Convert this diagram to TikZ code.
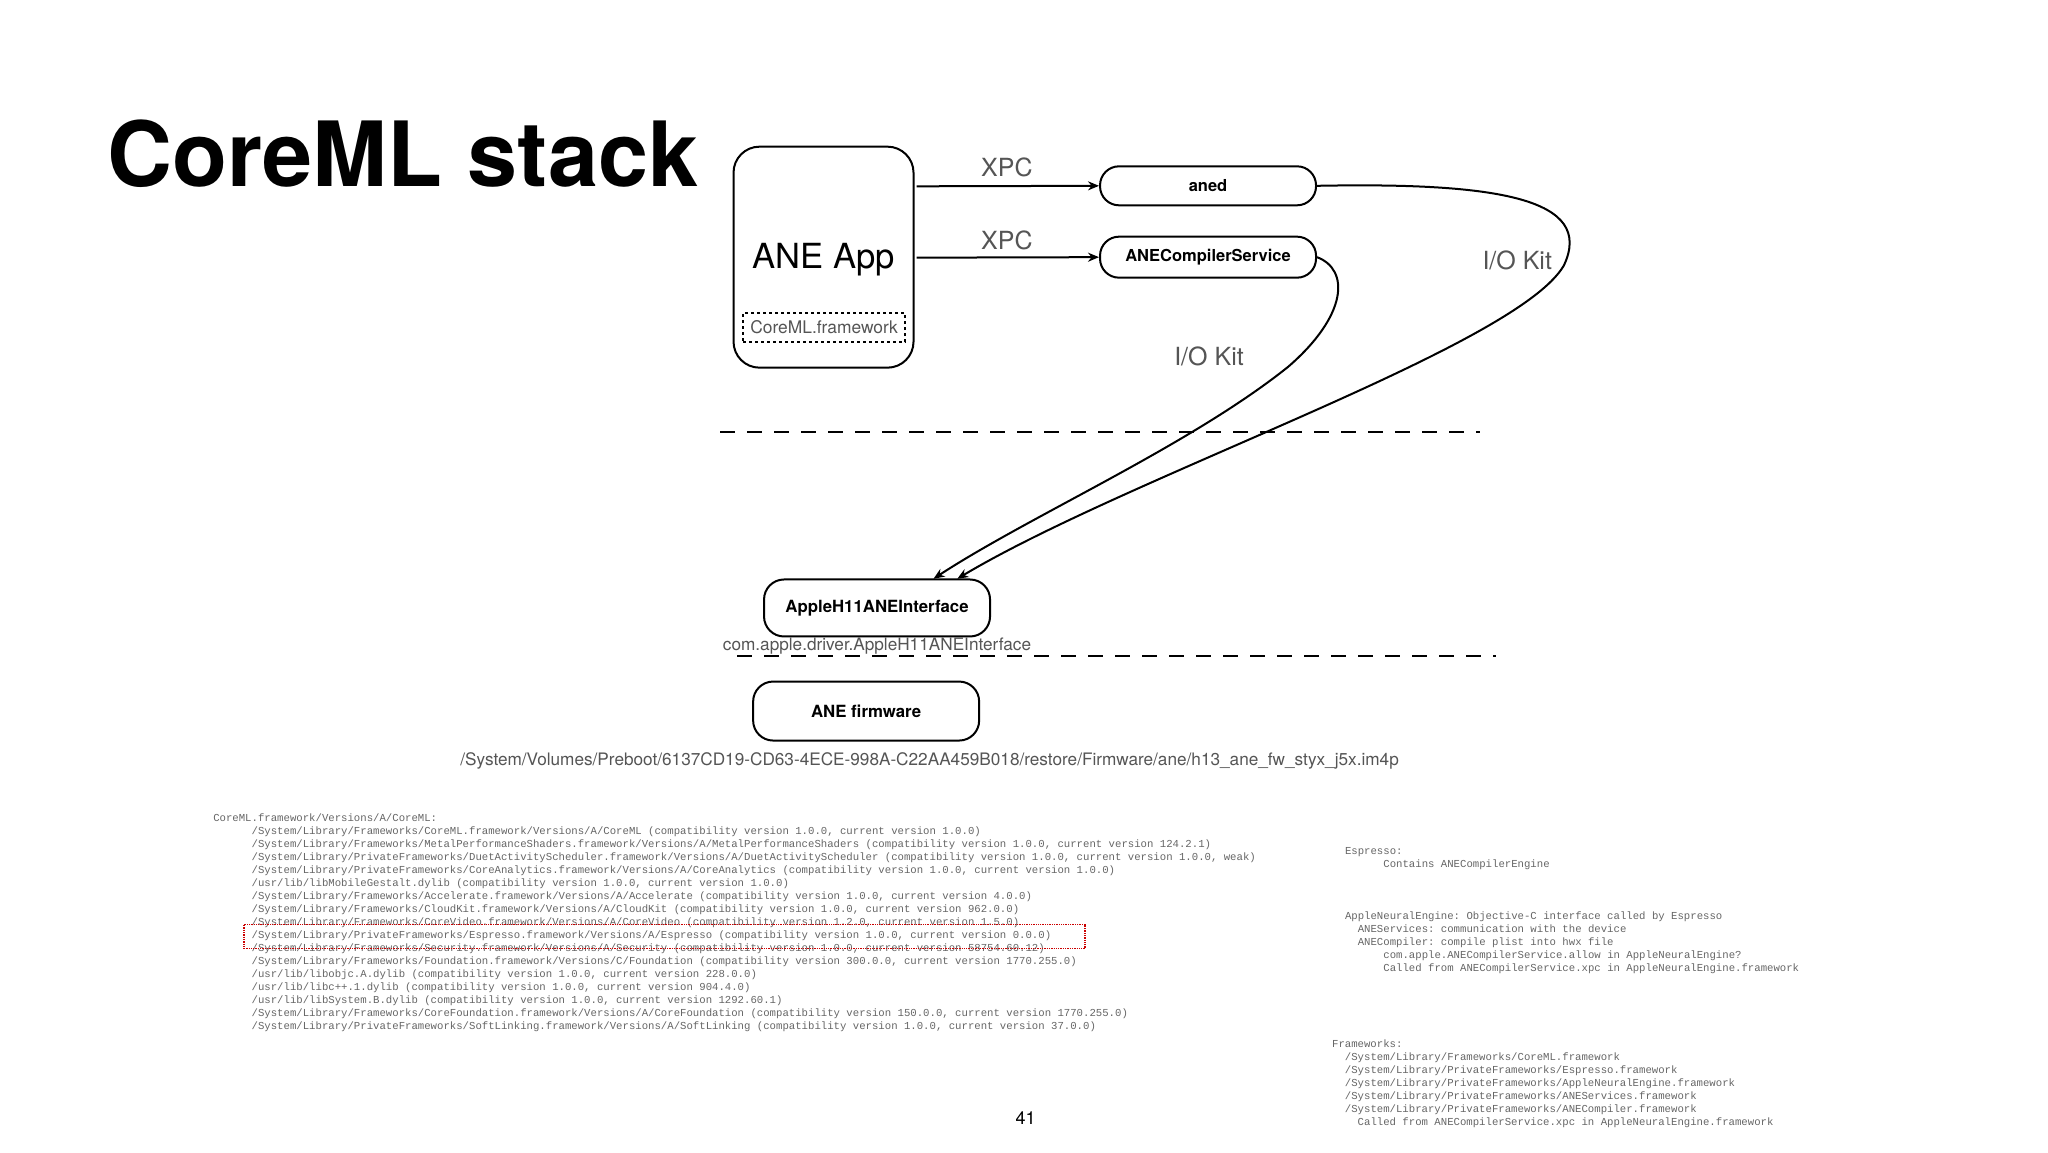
\documentclass[tikz,border=0pt]{standalone}
\usepackage{fontspec}
\setmainfont{TeX Gyre Heros}
\setmonofont{Liberation Mono}
\usetikzlibrary{arrows.meta}
\definecolor{lbl}{HTML}{555555}
\definecolor{code}{HTML}{666666}
\tikzset{
  box/.style={draw,line width=2pt,rounded corners=20pt,font=\fontsize{16.8}{19}\selectfont\bfseries,inner sep=0pt},
  pill/.style={draw,line width=2pt,rounded corners=19pt,font=\fontsize{16.5}{19}\selectfont\bfseries,inner sep=0pt},
  lab/.style={text=lbl,font=\fontsize{25}{27}\selectfont},
  arr/.style={line width=2pt,-{Stealth[length=11pt,width=9pt]}},
  sep/.style={line width=2.2pt,dash pattern=on 15pt off 12pt},
  code/.style={text=code,font=\fontsize{10.66}{13}\ttfamily,align=left,anchor=north west,inner sep=0pt},
}
\newcommand{\ii}[1]{\phantom{#1}}
\begin{document}
\begin{tikzpicture}[x=0.991pt,y=-0.991pt]
\useasboundingbox[fill=white] (0,0) rectangle (2066.6,1162.5);
\node[anchor=base west,inner sep=0pt,font=\fontsize{90}{90}\selectfont\bfseries] (title) at (108,188) {CoreML stack};
% ANE App
\node[draw,line width=2pt,rounded corners=26pt,minimum width=180pt,minimum height=221pt] (app) at (831,259.5) {};
\node[font=\fontsize{34.6}{36}\selectfont] (apptxt) at (831,262) {ANE App};
\node[draw,dashed,line width=2pt,minimum width=162pt,minimum height=29pt,inner sep=0pt,text=lbl,font=\fontsize{17.4}{19}\selectfont] (cml) at (831.5,330.5) {CoreML.framework};
% right boxes
\node[pill,minimum width=216pt,minimum height=39pt] (aned) at (1219,187.5) {aned};
\node[pill,minimum width=216pt,minimum height=41pt] (acs) at (1219,259.5) {ANECompilerService};
\coordinate (a1) at (925,188);
\coordinate (a2) at (925,260);
\draw[arr] (a1) -- (aned.west);
\draw[arr] (a2) -- (acs.west);
\node[lab,anchor=base] (x1) at (1016,178) {XPC};
\node[lab,anchor=base] (x2) at (1016,252) {XPC};
\node[lab,anchor=base] (io1) at (1531,272) {I/O Kit};
\node[lab,anchor=base] (io2) at (1220,369) {I/O Kit};
% lower boxes
\node[box,minimum width=226pt,minimum height=57pt] (ah) at (885,613.5) {AppleH11ANEInterface};
\node[lab,anchor=base,font=\fontsize{17.2}{19}\selectfont] (ahl) at (885,656) {com.apple.driver.AppleH11ANEInterface};
\node[box,minimum width=226pt,minimum height=59pt] (fw) at (874,717.5) {ANE firmware};
\node[lab,anchor=base,font=\fontsize{17.2}{19}\selectfont] (fwl) at (938,772) {/System/Volumes/Preboot/6137CD19-CD63-4ECE-998A-C22AA459B018/restore/Firmware/ane/h13\_ane\_fw\_styx\_j5x.im4p};
% separators
\coordinate (s1a) at (727,436); \coordinate (s1b) at (1493,436);
\coordinate (s2a) at (744,662); \coordinate (s2b) at (1510,662);
\draw[sep] (s1a) -- (s1b);
\draw[sep] (s2a) -- (s2b);
% curves
\coordinate (t1) at (966,584);
\coordinate (t2) at (942,584);
\draw[arr] (aned.east) .. controls (1510,184) and (1610,200) .. (1578,268) .. controls (1530,350) and (1140,480) .. (t1);
\draw[arr] (acs.east) .. controls (1362,272) and (1360,318) .. (1300,370) .. controls (1200,450) and (1040,520) .. (t2);
% code blocks
\node[code] (c1) at (215,821) {CoreML.framework/Versions/A/CoreML:\\
\ii{000000}/System/Library/Frameworks/CoreML.framework/Versions/A/CoreML (compatibility version 1.0.0, current version 1.0.0)\\
\ii{000000}/System/Library/Frameworks/MetalPerformanceShaders.framework/Versions/A/MetalPerformanceShaders (compatibility version 1.0.0, current version 124.2.1)\\
\ii{000000}/System/Library/PrivateFrameworks/DuetActivityScheduler.framework/Versions/A/DuetActivityScheduler (compatibility version 1.0.0, current version 1.0.0, weak)\\
\ii{000000}/System/Library/PrivateFrameworks/CoreAnalytics.framework/Versions/A/CoreAnalytics (compatibility version 1.0.0, current version 1.0.0)\\
\ii{000000}/usr/lib/libMobileGestalt.dylib (compatibility version 1.0.0, current version 1.0.0)\\
\ii{000000}/System/Library/Frameworks/Accelerate.framework/Versions/A/Accelerate (compatibility version 1.0.0, current version 4.0.0)\\
\ii{000000}/System/Library/Frameworks/CloudKit.framework/Versions/A/CloudKit (compatibility version 1.0.0, current version 962.0.0)\\
\ii{000000}/System/Library/Frameworks/CoreVideo.framework/Versions/A/CoreVideo (compatibility version 1.2.0, current version 1.5.0)\\
\ii{000000}/System/Library/PrivateFrameworks/Espresso.framework/Versions/A/Espresso (compatibility version 1.0.0, current version 0.0.0)\\
\ii{000000}/System/Library/Frameworks/Security.framework/Versions/A/Security (compatibility version 1.0.0, current version 58754.60.12)\\
\ii{000000}/System/Library/Frameworks/Foundation.framework/Versions/C/Foundation (compatibility version 300.0.0, current version 1770.255.0)\\
\ii{000000}/usr/lib/libobjc.A.dylib (compatibility version 1.0.0, current version 228.0.0)\\
\ii{000000}/usr/lib/libc++.1.dylib (compatibility version 1.0.0, current version 904.4.0)\\
\ii{000000}/usr/lib/libSystem.B.dylib (compatibility version 1.0.0, current version 1292.60.1)\\
\ii{000000}/System/Library/Frameworks/CoreFoundation.framework/Versions/A/CoreFoundation (compatibility version 150.0.0, current version 1770.255.0)\\
\ii{000000}/System/Library/PrivateFrameworks/SoftLinking.framework/Versions/A/SoftLinking (compatibility version 1.0.0, current version 37.0.0)};
\node[draw=red!80!black,densely dotted,line width=1.3pt,minimum width=841pt,minimum height=24pt,inner sep=0pt] (hl) at (670.5,945) {};
\node[code] (c2) at (1357,855) {Espresso:\\
\ii{000000}Contains ANECompilerEngine};
\node[code] (c3) at (1357,920) {AppleNeuralEngine: Objective-C interface called by Espresso\\
\ii{00}ANEServices: communication with the device\\
\ii{00}ANECompiler: compile plist into hwx file\\
\ii{000000}com.apple.ANECompilerService.allow in AppleNeuralEngine?\\
\ii{000000}Called from ANECompilerService.xpc in AppleNeuralEngine.framework};
\node[code] (c4) at (1344,1049) {Frameworks:\\
\ii{00}/System/Library/Frameworks/CoreML.framework\\
\ii{00}/System/Library/PrivateFrameworks/Espresso.framework\\
\ii{00}/System/Library/PrivateFrameworks/AppleNeuralEngine.framework\\
\ii{00}/System/Library/PrivateFrameworks/ANEServices.framework\\
\ii{00}/System/Library/PrivateFrameworks/ANECompiler.framework\\
\ii{0000}Called from ANECompilerService.xpc in AppleNeuralEngine.framework};
\node[font=\fontsize{18}{20}\selectfont] (pg) at (1035,1128) {41};
\end{tikzpicture}
\end{document}
